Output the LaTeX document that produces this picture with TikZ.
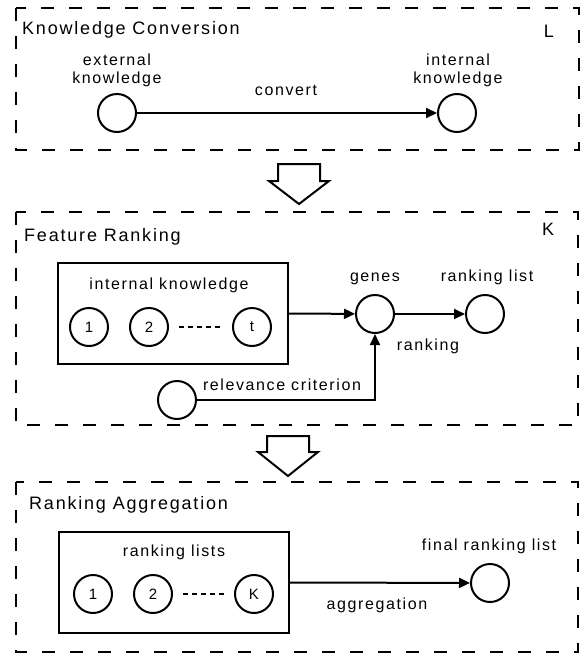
\documentclass[tikz,border=0pt]{standalone}
\usepackage{fontspec}
\setmainfont{Liberation Sans}[LetterSpace=10]
\usetikzlibrary{arrows.meta}

\tikzset{
  stage/.style={line width=2.2pt, dash pattern=on 13pt off 15pt},
  state/.style={draw, circle, line width=2pt, minimum size=38pt, inner sep=0pt,
    font=\fontsize{15}{18}\selectfont},
  group/.style={draw, line width=2pt, inner sep=0pt},
  lbl/.style={anchor=base, inner sep=0pt, align=center,
    font=\fontsize{16}{18}\selectfont},
  title/.style={anchor=base west, inner sep=0pt, font=\fontsize{18}{21}\selectfont},
  flow/.style={line width=2pt, -{Triangle[length=11pt, width=10pt]}},
  dots/.style={line width=2pt, dash pattern=on 5pt off 4pt, shorten <=10pt, shorten >=9pt},
  bigarrow/.style={line width=2pt, fill=white, line join=miter}
}

\begin{document}
\begin{tikzpicture}[x=1pt, y=-1pt]
    \useasboundingbox (0,0) rectangle (585,654);

    % knowledge conversion
    \draw[stage] (16,8) rectangle (579,150);
    \node[title] (tconv) at (22,34) {Knowledge Conversion};
    \node[title, anchor=base] (nl) at (549,37) {L};
    \node[state] (ext) at (117,113) {};
    \node[state] (int) at (457,113) {};
    \node[lbl] (text) at (117,83) {external\\knowledge};
    \node[lbl] (tint) at (458,83) {internal\\knowledge};
    \draw[flow] (ext) -- (int);
    \node[lbl] (tcvt) at (286,95) {convert};

    \draw[bigarrow] (278,164) -- (320,164) -- (320,181) -- (329,181) -- (299,204)
        -- (269,181) -- (278,181) -- cycle;

    % feature ranking
    \draw[stage] (16,212) rectangle (578,425);
    \node[title] (trank) at (24,241) {Feature Ranking};
    \node[title, anchor=base] (nk) at (548,235) {K};
    \node[group, minimum width=230pt, minimum height=101pt] (ik) at (173,313.5) {};
    \node[lbl] (tik) at (169,289) {internal knowledge};
    \node[state] (i1) at (89,327) {1};
    \node[state] (i2) at (149,327) {2};
    \node[state] (it) at (252,327) {t};
    \draw[dots] (i2) -- (it);
    \node[state] (genes) at (375,314) {};
    \node[state] (rlist) at (485,314) {};
    \node[state] (rel) at (177,400) {};
    \node[lbl] (tgenes) at (375,281) {genes};
    \node[lbl] (trlist) at (487,281) {ranking list};
    \draw[flow] (ik.east) -- (genes);
    \draw[flow] (genes) -- (rlist);
    \node[lbl] (tranking) at (428,350) {ranking};
    \draw[flow] (rel.east) -| (genes.south);
    \node[lbl] (trel) at (282,390) {relevance criterion};

    \draw[bigarrow] (267,436) -- (309,436) -- (309,452) -- (318,452) -- (288,476)
        -- (258,452) -- (267,452) -- cycle;

    % ranking aggregation
    \draw[stage] (16,482) rectangle (578,652);
    \node[title] (tagg) at (29,509) {Ranking Aggregation};
    \node[group, minimum width=230pt, minimum height=101pt] (rl) at (174,582.5) {};
    \node[lbl] (trl) at (174,556) {ranking lists};
    \node[state] (r1) at (93,594) {1};
    \node[state] (r2) at (153,594) {2};
    \node[state] (rk) at (254,594) {K};
    \draw[dots] (r2) -- (rk);
    \node[state] (final) at (490,583) {};
    \node[lbl] (tfinal) at (489,550) {final ranking list};
    \draw[flow] (rl.east) -- (final);
    \node[lbl] (tagr) at (377,609) {aggregation};
\end{tikzpicture}
\end{document}
